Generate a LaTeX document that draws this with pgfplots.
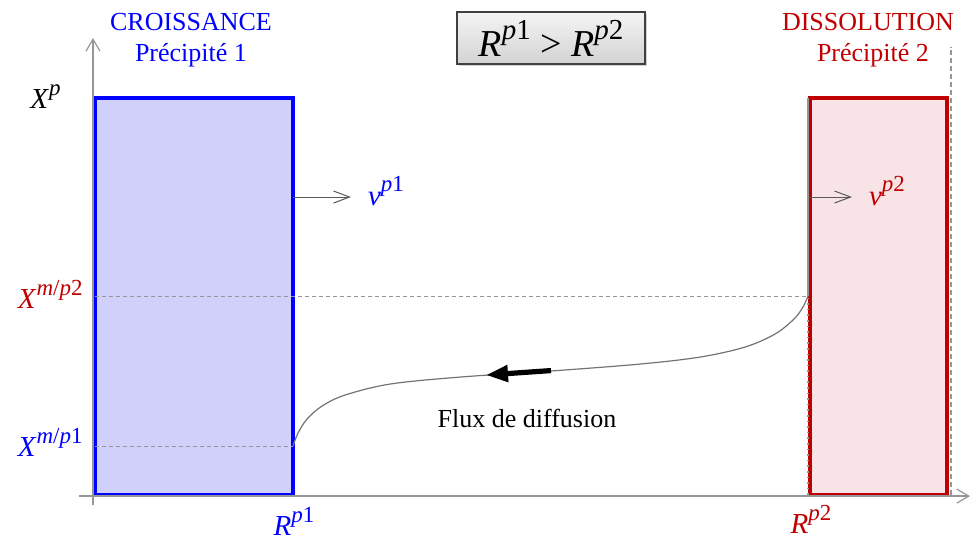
\documentclass[border=0pt]{standalone}
\usepackage{pgfplots}
\pgfplotsset{compat=1.18}
\usepackage{fontspec}
\setmainfont{Liberation Serif}
\usetikzlibrary{arrows.meta,shadows}
\definecolor{cblue}{RGB}{0,0,255}
\definecolor{cred}{RGB}{192,0,0}
\definecolor{fblue}{RGB}{208,208,250}
\definecolor{fred}{RGB}{248,228,230}
\definecolor{axgray}{RGB}{150,150,150}
\newcommand{\msym}[2]{{\fontsize{14.5}{16}\selectfont\textit{#1}\raisebox{0.45em}{\fontsize{11.5}{12}\selectfont #2}}}
\newcommand{\bsym}[2]{{\fontsize{19}{22}\selectfont\textit{#1}\raisebox{0.45em}{\fontsize{14.5}{15}\selectfont #2}}}
\newcommand{\pp}[1]{\textit{p}#1}
\begin{document}
\begin{tikzpicture}
\begin{axis}[scale only axis, width=485.5pt, height=270.5pt,
  xmin=0, xmax=971, ymin=0, ymax=541, hide axis, clip=false]
% invisible frame
\addplot[draw=none] coordinates {(0,0)(971,541)};
% rectangles
\addplot[fill=fblue, draw=cblue, line width=1.6pt] coordinates {(95,46)(293,46)(293,443)(95,443)} -- cycle;
\addplot[fill=fred, draw=cred, line width=1.6pt] coordinates {(810,46)(947,46)(947,443)(810,443)} -- cycle;
% axes
\addplot[axgray, line width=0.6pt, -{Straight Barb[length=6pt,width=7pt]}] coordinates {(93,36)(93,503)};
\addplot[axgray, line width=0.6pt, -{Straight Barb[length=6pt,width=7pt]}] coordinates {(79,45)(970,45)};
% reference lines
\addplot[axgray, line width=0.5pt, dash pattern=on 2pt off 1.5pt] coordinates {(95,245)(808,245)};
\addplot[axgray, line width=0.5pt, dash pattern=on 2pt off 1.5pt] coordinates {(95,95)(293,95)};
\addplot[axgray, line width=0.6pt, dash pattern=on 2.5pt off 1.5pt] coordinates {(951,46)(951,494)};
\addplot[axgray, line width=1pt] coordinates {(808,245)(808,443)};
\addplot[axgray, line width=0.8pt, dotted] coordinates {(808,46)(808,245)};
% concentration profile
\addplot[black!55, line width=0.6pt, smooth, tension=0.55] coordinates {
(293,95)(298,108)(307,122)(322,135)(345,146)(390,157)(460,164)
(550,170)(640,177)(700,184)(745,194)(775,207)(794,222)(803,234)(808,245)};
% diffusion arrow
\addplot[black, line width=2.6pt, -{Triangle[length=11pt,width=8pt]}] coordinates {(551,170.5)(486,166)};
% velocity arrows
\addplot[black!65, line width=0.5pt, -{Straight Barb[length=8pt,width=6pt]}] coordinates {(293,344)(351,344)};
\addplot[black!65, line width=0.5pt, -{Straight Barb[length=8pt,width=6pt]}] coordinates {(810,344)(852,344)};
% texts
\node[cblue, font=\fontsize{13}{15}\selectfont] at (axis cs:191,519) {CROISSANCE};
\node[cblue, font=\fontsize{13}{15}\selectfont] at (axis cs:191,486) {Précipité 1};
\node[cred, font=\fontsize{13}{15}\selectfont] at (axis cs:868,519) {DISSOLUTION};
\node[cred, font=\fontsize{13}{15}\selectfont] at (axis cs:873,486) {Précipité 2};
\node[black, font=\fontsize{13}{15}\selectfont] at (axis cs:527,123) {Flux de diffusion};
\node[black, anchor=west, inner sep=0pt] at (axis cs:30,444) {\msym{X}{\textit{p}}};
\node[cred, anchor=east, inner sep=0pt] at (axis cs:83,247) {\msym{X}{\textit{m}/\pp{2}}};
\node[cblue, anchor=east, inner sep=0pt] at (axis cs:83,99) {\msym{X}{\textit{m}/\pp{1}}};
\node[cblue, inner sep=0pt] at (axis cs:294,20) {\msym{R}{\pp{1}}};
\node[cred, inner sep=0pt] at (axis cs:811,22) {\msym{R}{\pp{2}}};
\node[cblue, inner sep=0pt] at (axis cs:386,350) {\msym{v}{\pp{1}}};
\node[cred, inner sep=0pt] at (axis cs:887,350) {\msym{v}{\pp{2}}};
\node[draw=black!75, line width=0.6pt, top color=gray!8, bottom color=gray!35,
  minimum width=94pt, minimum height=26pt, inner sep=0pt,
  drop shadow={shadow xshift=1pt, shadow yshift=-1.2pt, opacity=0.35}]
  at (axis cs:551,503) {\bsym{R}{\pp{1}}{\fontsize{19}{22}\selectfont\ >\ }\bsym{R}{\pp{2}}};
\end{axis}
\end{tikzpicture}
\end{document}
